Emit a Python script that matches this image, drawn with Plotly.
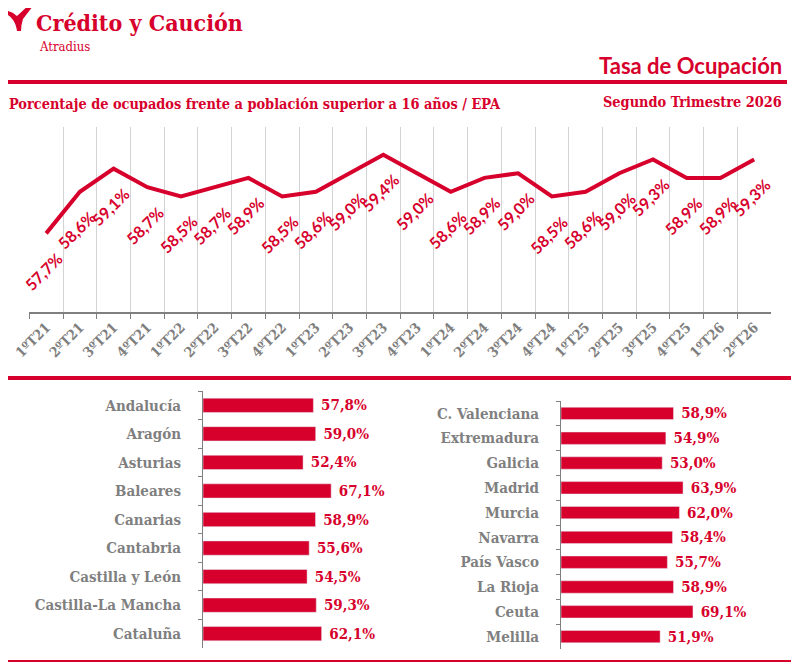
import plotly.graph_objects as go

# ----------------------------------------------------------------------------
# DATA
quarters = ["1ºT21", "2ºT21", "3ºT21", "4ºT21", "1ºT22", "2ºT22", "3ºT22", "4ºT22",
            "1ºT23", "2ºT23", "3ºT23", "4ºT23", "1ºT24", "2ºT24", "3ºT24", "4ºT24",
            "1ºT25", "2ºT25", "3ºT25", "4ºT25", "1ºT26", "2ºT26"]
rate = [57.7, 58.6, 59.1, 58.7, 58.5, 58.7, 58.9, 58.5, 58.6, 59.0, 59.4,
        59.0, 58.6, 58.9, 59.0, 58.5, 58.6, 59.0, 59.3, 58.9, 58.9, 59.3]

regions_left = ["Andalucía", "Aragón", "Asturias", "Baleares", "Canarias",
                "Cantabria", "Castilla y León", "Castilla-La Mancha", "Cataluña"]
values_left = [57.8, 59.0, 52.4, 67.1, 58.9, 55.6, 54.5, 59.3, 62.1]

regions_right = ["C. Valenciana", "Extremadura", "Galicia", "Madrid", "Murcia",
                 "Navarra", "País Vasco", "La Rioja", "Ceuta", "Melilla"]
values_right = [58.9, 54.9, 53.0, 63.9, 62.0, 58.4, 55.7, 58.9, 69.1, 51.9]

# ----------------------------------------------------------------------------
# STYLE
# the page body keeps its default 8px margin on every side,
# so the figure is shrunk and shifted by it to fill the 804x670 page
OFF = 8
W, H = 804 - 2 * OFF, 670 - 2 * OFF
red = "#D7002C"
gray = "#7F7F7F"
serif = "DejaVu Serif Condensed, DejaVu Serif"
sans = "Lato, Open Sans"


# page pixels -> paper coordinates
def px(x):
    return (x - OFF) / W


def py(y):
    return 1 - (y - OFF) / H


fig = go.Figure()

# line chart
fig.add_trace(go.Scatter(x=quarters, y=rate, mode="lines",
                         line=dict(color=red, width=4), xaxis="x", yaxis="y",
                         hoverinfo="x+y"))

# bar charts
bar_text = "\u00a0%{x:.1f}%"
for vals, regs, xa, ya in [(values_left, regions_left, "x2", "y2"),
                           (values_right, regions_right, "x3", "y3")]:
    fig.add_trace(go.Bar(x=vals, y=regs, orientation="h",
                         marker_color=red, xaxis=xa, yaxis=ya,
                         texttemplate=bar_text, textposition="outside",
                         cliponaxis=False, constraintext="none",
                         textfont=dict(family=serif, size=15, color=red, weight="bold")))

# data labels of the line, rotated
annotations = []
for q, v in zip(quarters, rate):
    annotations.append(dict(x=q, y=v, xref="x", yref="y", showarrow=False,
                            text=("%.1f%%" % v).replace(".", ","), textangle=-45,
                            xshift=-3, yshift=-38,
                            font=dict(family=sans, size=16, color=red, weight="bold")))

# header texts
header = [
    dict(x=px(35), y=py(23), text="Crédito y Caución", xanchor="left", yanchor="middle",
         font=dict(family=serif, size=23, color=red, weight="bold")),
    dict(x=px(38), y=py(47), text="Atradius", xanchor="left", yanchor="middle",
         font=dict(family=serif, size=13, color=red)),
    dict(x=px(783), y=py(65), text="Tasa de Ocupación", xanchor="right", yanchor="middle",
         font=dict(family=sans, size=22, color=red, weight="bold")),
    dict(x=px(8), y=py(103), text="Porcentaje de ocupados frente a población superior a 16 años / EPA",
         xanchor="left", yanchor="middle",
         font=dict(family=serif, size=14.4, color=red, weight="bold")),
    dict(x=px(783), y=py(101), text="Segundo Trimestre 2026", xanchor="right", yanchor="middle",
         font=dict(family=serif, size=14.4, color=red, weight="bold")),
]
for a in header:
    a.update(xref="paper", yref="paper", showarrow=False, borderpad=0)
annotations += header

# red separator lines and the logo
shapes = [
    dict(type="line", xref="paper", yref="paper", x0=px(8), x1=px(787), y0=py(82), y1=py(82),
         line=dict(color=red, width=4)),
    dict(type="line", xref="paper", yref="paper", x0=px(8), x1=px(791), y0=py(378), y1=py(378),
         line=dict(color=red, width=4)),
    dict(type="line", xref="paper", yref="paper", x0=px(8), x1=px(791), y0=py(662), y1=py(662),
         line=dict(color=red, width=4)),
]
bird = [("M", 8, 11), ("Q", 13, 12), ("", 17, 16), ("L", 30, 4), ("L", 33, 6), ("L", 23, 19),
        ("Q", 21, 25), ("", 21, 31), ("L", 17, 31), ("Q", 16, 24), ("", 13, 20),
        ("Q", 10, 16), ("", 8, 15)]
path = " ".join("%s%.5f,%.5f" % (c, px(x), py(y)) for c, x, y in bird) + " Z"
shapes.append(dict(type="path", xref="paper", yref="paper", path=path,
                   fillcolor=red, line=dict(width=0)))

# automargin off everywhere: the layout is placed in page pixels
bar_yaxis = dict(type="category", autorange="reversed", showline=True, linecolor=gray,
                 linewidth=1, ticks="outside", tickson="boundaries", ticklen=4,
                 tickcolor=gray, ticklabelstandoff=18, showgrid=False, automargin=False,
                 tickfont=dict(family=serif, size=15, color=gray, weight="bold"))
bar_xaxis = dict(range=[0, 100], visible=False, showgrid=False, zeroline=False,
                 automargin=False)

fig.update_layout(
    width=W, height=H, margin=dict(l=0, r=0, t=0, b=0, autoexpand=False),
    paper_bgcolor="white", plot_bgcolor="white", showlegend=False,
    separators=",.", bargap=0.5,
    xaxis=dict(domain=[px(29.3), px(771)], type="category", range=[-0.5, len(quarters) - 0.5],
               tickson="boundaries", automargin=False,
               showgrid=True, gridcolor="#D3D3D3", gridwidth=1,
               showline=True, linecolor=gray, linewidth=1.5,
               ticks="outside", ticklen=5, tickcolor=gray, tickangle=-45,
               tickfont=dict(family=serif, size=14, color=gray, weight="bold")),
    yaxis=dict(domain=[py(312), py(127)], range=[56, 60], visible=False, showgrid=False,
               automargin=False),
    xaxis2=dict(domain=[px(203), px(394)], anchor="y2", **bar_xaxis),
    yaxis2=dict(domain=[py(648), py(391)], anchor="x2", **bar_yaxis),
    xaxis3=dict(domain=[px(561), px(752)], anchor="y3", **bar_xaxis),
    yaxis3=dict(domain=[py(649), py(401)], anchor="x3", **bar_yaxis),
    annotations=annotations, shapes=shapes,
)

fig.write_html("out.html")
